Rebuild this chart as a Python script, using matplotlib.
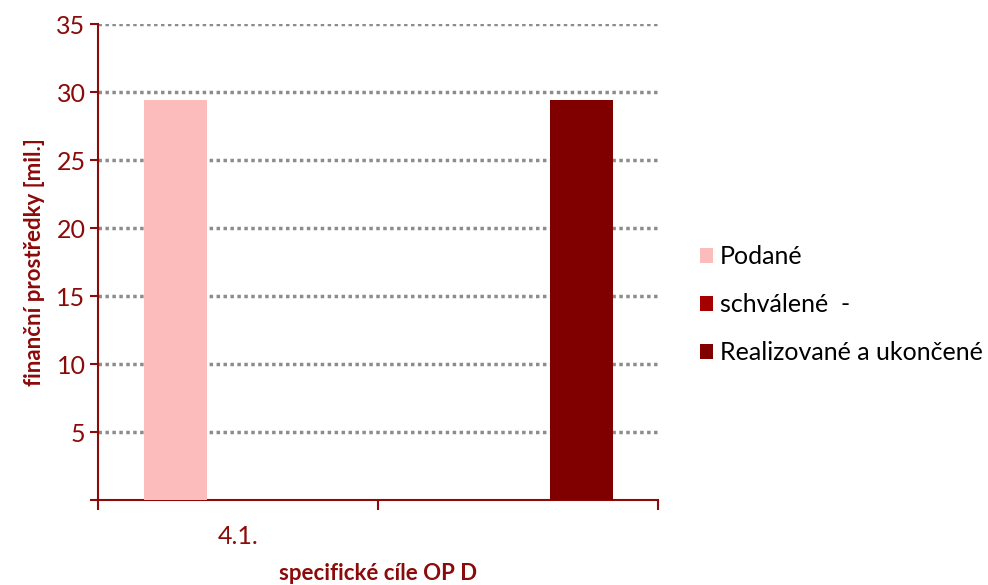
import numpy as np
import matplotlib.pyplot as plt
import matplotlib
from matplotlib.patches import Patch

matplotlib.rcParams['font.family'] = ['Lato', 'DejaVu Sans']

# Data
kategorie = ['4.1.', '']
serie = ['Podané', 'schválené  -', 'Realizované a ukončené']
podane = [29.4, 0]
schvalene = [0, 0]
realizovane = [0, 29.4]
barvy = ['#FCBCBC', '#A50000', '#800000']

cervena = '#8B0A0A'

fig = plt.figure(figsize=(9.88, 5.85), dpi=100)
ax = fig.add_axes([98/988, 1 - 500/585, 560/988, 476/585])

x = np.arange(len(kategorie)) + 0.5
w = 0.225
for i, (vals, c) in enumerate(zip([podane, schvalene, realizovane], barvy)):
    ax.bar(x + (i - 1) * w, vals, width=w, color=c, zorder=3)

ax.set_xlim(0, len(kategorie))
ax.set_ylim(0, 35)

# osa y
ax.set_yticks([5, 10, 15, 20, 25, 30, 35])
ax.set_yticks([0], minor=True)
ax.tick_params(axis='y', which='both', direction='out', length=6, width=1.5,
               color=cervena, labelcolor=cervena, labelsize=18, pad=3)

# osa x: čárky na hranicích kategorií, popisky uprostřed
ax.set_xticks(np.arange(len(kategorie) + 1))
ax.set_xticklabels([])
ax.set_xticks(x, minor=True)
ax.set_xticklabels(kategorie, minor=True)
ax.tick_params(axis='x', which='minor', length=0, labelcolor=cervena, labelsize=18, pad=18)
ax.tick_params(axis='x', which='major', direction='out', length=7, width=1.5, color=cervena)

for s in ['top', 'right']:
    ax.spines[s].set_visible(False)
for s in ['left', 'bottom']:
    ax.spines[s].set_color(cervena)
    ax.spines[s].set_linewidth(1.5)

ax.yaxis.grid(True, which='major', color='#8C8C8C', linestyle=(0, (1, 1)), linewidth=2.5, zorder=0)
ax.set_axisbelow(True)

ax.set_ylabel('finanční prostředky [mil.]', color=cervena, fontsize=16, fontweight='bold', labelpad=8)
ax.set_xlabel('specifické cíle OP D', color=cervena, fontsize=16, fontweight='bold', labelpad=11)

handles = [Patch(facecolor=c, edgecolor='none') for c in barvy]
fig.legend(handles, serie, loc='center left', bbox_to_anchor=(677/988, 1 - 305/585),
           frameon=False, fontsize=18, handlelength=0.55, handleheight=0.55,
           handletextpad=0.25, labelspacing=1.0)

plt.savefig('out.png', dpi=100)
